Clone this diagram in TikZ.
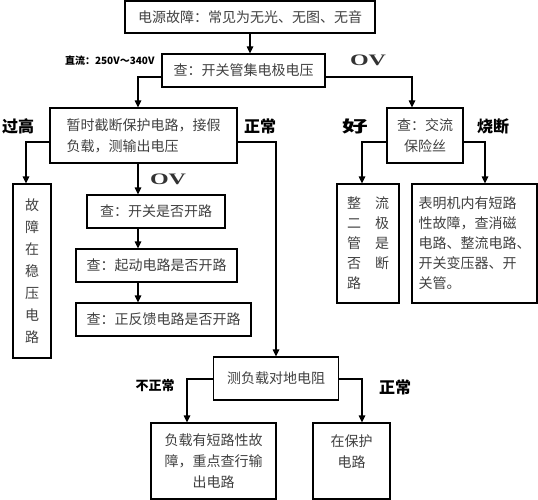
\documentclass[tikz,border=0pt]{standalone}
\usepackage{fontspec}
\setmainfont{Noto Sans CJK SC}
\newfontfamily\latin{Liberation Serif}
\usetikzlibrary{arrows.meta}

\begin{document}
\begin{tikzpicture}[x=1pt,y=-1pt,
  box/.style={draw,line width=1.2pt,inner sep=0pt,text=black!75,align=center,font=\fontsize{14}{21}\selectfont},
  arr/.style={line width=1.2pt,-{Triangle[length=7pt,width=6.5pt]}},
  lbl/.style={font=\bfseries\fontsize{16}{16}\selectfont},
  ov/.style={font=\latin\bfseries\fontsize{16}{16}\selectfont,text=black!80}]
\useasboundingbox (0,0) rectangle (538,500);
\def\bx#1#2#3#4#5#6#7{
\node (#1) [box,minimum width=#4pt,minimum height=#5pt,#6] at (#2,#3) {#7};
}
% boxes
\bx{fail}{250}{17}{250}{32}{}{电源故障：常见为无光、无图、无音}
\bx{chk}{243.5}{70.5}{163}{33}{}{查：开关管集电极电压}
\bx{cut}{143.5}{135.5}{187}{55}{align=left}{暂时截断保护电路，接假\\负载，测输出电压}
\bx{fuse}{425}{135.5}{76}{55}{}{查：交流\\保险丝}
\bx{reg}{32}{271}{38}{174}{font=\fontsize{14}{22}\selectfont}{故\\障\\在\\稳\\压\\电\\路}
\bx{sw}{156}{211.5}{138}{33}{}{查：开关是否开路}
\bx{start}{156.5}{265.5}{161}{33}{}{查：起动电路是否开路}
\bx{fb}{163.5}{319.5}{175}{33}{}{查：正反馈电路是否开路}
\bx{rect}{368}{243.5}{62}{119}{align=left,font=\fontsize{14}{20}\selectfont}{整\hspace{14pt}流\\二\hspace{14pt}极\\管\hspace{14pt}是\\否\hspace{14pt}断\\路}
\bx{short}{474.5}{243.5}{125}{119}{align=left,font=\fontsize{14}{20}\selectfont}{表明机内有短路\\性故障，查消磁\\电路、整流电路、\\开关变压器、开\\关管。}
\bx{load}{276}{378.5}{125}{43}{}{测负载对地电阻}
\bx{lfault}{213.5}{461}{125}{76}{}{负载有短路性故\\障，重点查行输\\出电路}
\bx{prot}{351.5}{461}{77}{76}{}{}
\node (prottxt) [box,draw=none,anchor=north] at ([yshift=-12pt]prot.north) {在保护\\电路};
% connectors
\draw[arr] (fail.south) -- (fail.south |- chk.north);
\draw[arr] ([yshift=-6.5pt]chk.west) -| ([xshift=-5.5pt]cut.north);
\draw[arr] ([yshift=-6.5pt]chk.east) -| ([xshift=-13pt]fuse.north);
\draw[arr] ([yshift=-6.5pt]cut.west) -| ([xshift=-6pt]reg.north);
\draw[arr] ([yshift=-6.5pt]cut.east) -| (load.north);
\draw[arr] ([xshift=-5.5pt]cut.south) -- ([xshift=-5.5pt]cut.south |- sw.north);
\draw[arr] ([xshift=-18pt]sw.south) -- ([xshift=-18pt]sw.south |- start.north);
\draw[arr] ([xshift=-18.5pt]start.south) -- ([xshift=-18.5pt]start.south |- fb.north);
\draw[arr] ([yshift=-6.5pt]fuse.west) -| ([xshift=-6pt]rect.north);
\draw[arr] ([yshift=-6.5pt]fuse.east) -| ([xshift=10.5pt]short.north);
\draw[arr] ([yshift=-0.5pt]load.west) -| ([xshift=-26.5pt]lfault.north);
\draw[arr] ([yshift=-0.5pt]load.east) -| ([xshift=10.5pt]prot.north);
% labels
\node (dc) [anchor=east,font=\bfseries\fontsize{10}{10}\selectfont] at (158,61) {直流：250V～340V};
\node (ov1) [ov] at (368,60) {\scalebox{1.5}[1]{OV}};
\node (ov2) [ov] at (168,179) {\scalebox{1.5}[1]{OV}};
\node (hi) [lbl] at (18,126) {过高};
\node (ok1) [lbl] at (260,126) {正常};
\node (good) [lbl] at (355,126) {\scalebox{1.6}[1]{好}};
\node (burn) [lbl] at (493,126) {烧断};
\node (bad) [lbl,font=\bfseries\fontsize{13}{13}\selectfont] at (155,386) {不正常};
\node (ok2) [lbl] at (395,387) {正常};
\end{tikzpicture}
\end{document}
